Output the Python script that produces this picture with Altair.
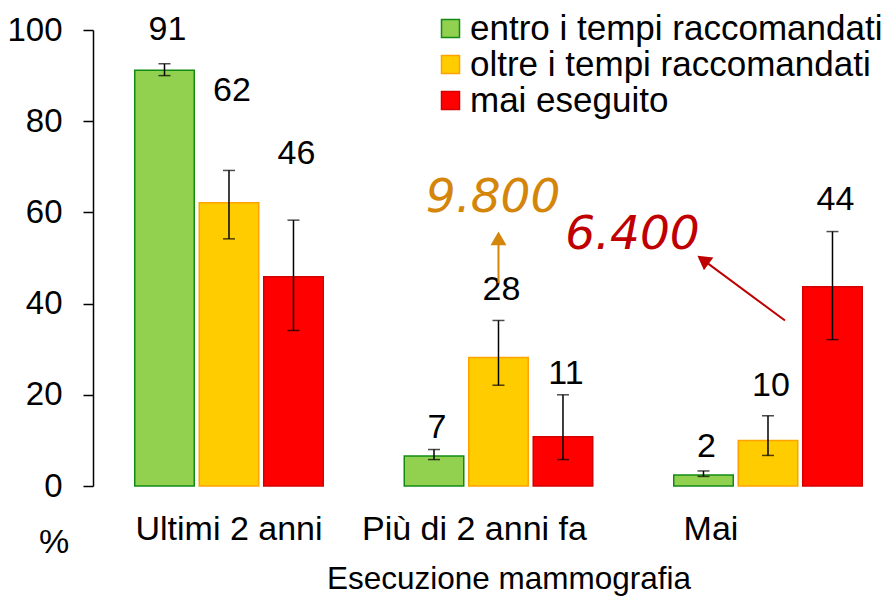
import altair as alt
import pandas as pd

# ---- data ----
categories = ["Ultimi 2 anni", "Più di 2 anni fa", "Mai"]
series = ["entro i tempi raccomandati", "oltre i tempi raccomandati", "mai eseguito"]
# values per category (rows) and series (columns)
values = [[91.2, 62.1, 45.9], [6.6, 28.2, 10.8], [2.4, 10.0, 43.7]]
lower = [[90.0, 54.2, 34.1], [5.8, 22.1, 5.8], [2.1, 6.7, 32.1]]
upper = [[92.6, 69.2, 58.3], [8.0, 36.3, 20.0], [3.3, 15.4, 55.8]]
# heights (in %) at which the value labels sit in the reference
label_at = [[97.9, 84.5, 70.7], [10.6, 40.7, 22.4], [6.4, 19.7, 60.6]]
y_ticks = [0, 20, 40, 60, 80, 100]

fills = ["#92D050", "#FFCC00", "#FF0000"]
strokes = ["#138A13", "#FFA200", "#D40000"]

# annotations (x in category units, y in %)
ann_text = ["9.800", "6.400"]
ann_x = [0.98, 1.497]
ann_y = [60.1, 52.0]
ann_color = ["#D4860B", "#C00000"]
arrow_x0 = [1.0, 2.063]
arrow_y0 = [44.5, 36.3]
arrow_x1 = [1.0, 1.759]
arrow_y1 = [53.0, 49.6]
head_x = [1.0, 1.759]
head_y = [54.3, 49.6]
head_angle = [0, 306]

cat_nudge = [0, -24, -57]  # px shift of category labels, as in reference

FONT = "Liberation Sans"
BAR_STEP = 0.2393
BAR_HALF = 0.1104

rows = []
for gi, cat in enumerate(categories):
    for si, ser in enumerate(series):
        xc = gi + (si - 1) * BAR_STEP
        rows.append(dict(cat=cat, gi=gi, series=ser, xc=xc,
                         x0=xc - BAR_HALF, x1=xc + BAR_HALF,
                         value=values[gi][si], lower=lower[gi][si],
                         upper=upper[gi][si], label_at=label_at[gi][si],
                         label=str(int(round(values[gi][si])))))
df = pd.DataFrame(rows)

xscale = alt.Scale(domain=[-0.5046, 2.4119], nice=False, zero=False)
yscale = alt.Scale(domain=[0, 100], nice=False)
yaxis = alt.Axis(title=None, values=y_ticks, grid=False,
                 tickSize=10, tickWidth=1.5, tickColor="black",
                 domainColor="black", domainWidth=1.5,
                 labelFont=FONT, labelFontSize=33, labelColor="black",
                 labelPadding=21)


def Y(field):
    return alt.Y(field, scale=yscale, axis=yaxis)


def X(field):
    return alt.X(field, scale=xscale, axis=None)


legend = alt.Legend(orient="none", legendX=340, legendY=-19, title=None,
                    direction="vertical", symbolType="square", symbolSize=324,
                    symbolStrokeWidth=1.5, labelFontSize=35, labelFont=FONT,
                    labelColor="black", labelOffset=2, rowPadding=0,
                    labelLimit=700, padding=0)

base = alt.Chart(df)

bars = base.mark_rect(strokeWidth=1.5).encode(
    x=X("x0:Q"),
    x2="x1:Q",
    y=Y("value:Q"),
    y2=alt.datum(0),
    fill=alt.Fill("series:N", scale=alt.Scale(domain=series, range=fills), legend=legend),
    stroke=alt.Stroke("series:N", scale=alt.Scale(domain=series, range=strokes), legend=legend),
)

err = base.mark_rule(color="black", strokeWidth=1.5).encode(
    x=X("xc:Q"), y=Y("lower:Q"), y2="upper:Q",
)
cap_lo = base.mark_tick(orient="horizontal", size=12, thickness=1.5, color="black").encode(
    x=X("xc:Q"), y=Y("lower:Q"),
)
cap_hi = base.mark_tick(orient="horizontal", size=12, thickness=1.5, color="black").encode(
    x=X("xc:Q"), y=Y("upper:Q"),
)

vlabels = base.mark_text(font=FONT, fontSize=34, baseline="alphabetic", dx=3,
                         color="black").encode(
    x=X("xc:Q"), y=Y("label_at:Q"), text="label:N",
)

cat_df = pd.DataFrame({"cat": categories, "gi": list(range(len(categories)))})
cat_layers = []
for i, cat in enumerate(categories):
    cat_layers.append(
        alt.Chart(cat_df[cat_df.cat == cat]).mark_text(
            font=FONT, fontSize=34, baseline="alphabetic", dx=cat_nudge[i], color="black"
        ).encode(x=X("gi:Q"), y=alt.value(510), text="cat:N")
    )

pct = alt.Chart(pd.DataFrame({"t": ["%"]})).mark_text(
    font=FONT, fontSize=34, baseline="alphabetic", color="black"
).encode(x=alt.value(-39), y=alt.value(523), text="t:N")

xtitle = alt.Chart(pd.DataFrame({"t": ["Esecuzione mammografia"]})).mark_text(
    font=FONT, fontSize=31.5, baseline="alphabetic", color="black"
).encode(x=alt.value(416), y=alt.value(559), text="t:N")

ann_df = pd.DataFrame({"t": ann_text, "x": ann_x, "y": ann_y, "c": ann_color,
                       "x0": arrow_x0, "y0": arrow_y0, "x1": arrow_x1, "y1": arrow_y1,
                       "hx": head_x, "hy": head_y, "ang": head_angle})
ann = alt.Chart(ann_df).mark_text(font="DejaVu Sans", fontStyle="italic", fontSize=47,
                                  baseline="alphabetic").encode(
    x=X("x:Q"), y=Y("y:Q"), text="t:N",
    color=alt.Color("c:N", scale=None),
)
shafts = alt.Chart(ann_df).mark_rule(strokeWidth=2).encode(
    x=X("x0:Q"), y=Y("y0:Q"), x2="x1:Q", y2="y1:Q",
    color=alt.Color("c:N", scale=None),
)
heads = alt.Chart(ann_df).mark_point(shape="triangle-up", filled=True, size=256, opacity=1).encode(
    x=X("hx:Q"), y=Y("hy:Q"),
    angle=alt.Angle("ang:Q", scale=None),
    color=alt.Color("c:N", scale=None),
)

chart = alt.layer(bars, err, cap_lo, cap_hi, vlabels, *cat_layers, pct, xtitle,
                  shafts, heads, ann).properties(
    width=786, height=456,
    background="white",
    autosize=alt.AutoSizeParams(type="none"),
    padding={"left": 85, "top": 22, "right": 8, "bottom": 112},
).configure_view(stroke="transparent")

chart.save("out.html", embed_options={"renderer": "svg", "actions": False})
